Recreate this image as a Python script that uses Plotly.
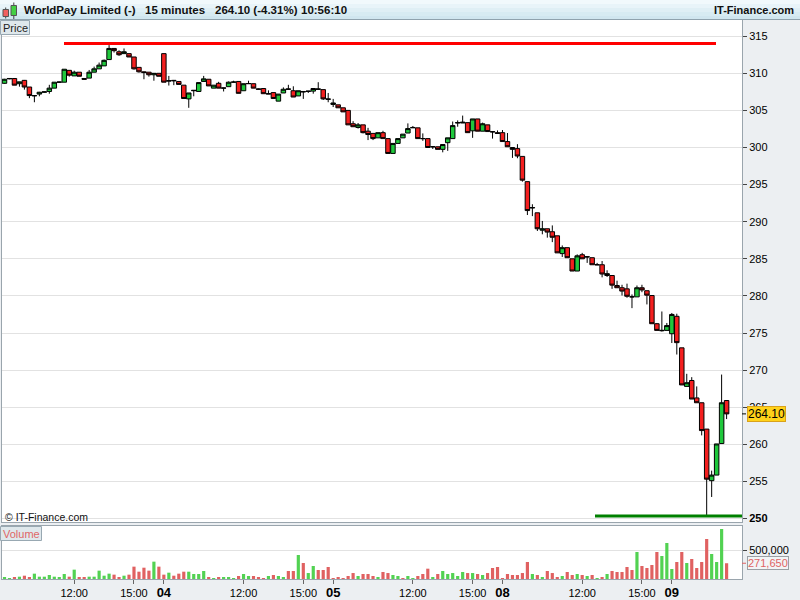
import plotly.graph_objects as go

# ---------------- data ----------------
days = ["03", "04", "05", "08", "09"]
session_bars = 34           # 08:00 .. 16:15, 15-minute bars
first_bar = 2               # series starts at 08:30 on day 03

opens = [308.65,309.25,309.3,308.6,309.05,308.15,306.95,307.2,307.45,307.55,
         308.0,308.8,308.8,310.4,309.65,310.15,309.3,309.35,310.15,310.6,
         311.0,311.85,313.35,312.9,312.65,312.65,312.2,310.8,310.2,310.15,
         309.8,310.0,312.65,308.95,309.05,308.9,308.4,306.55,307.65,307.55,
         308.9,309.2,308.0,308.65,308.0,308.2,308.8,308.9,307.65,308.6,
         308.6,307.9,307.95,307.2,307.4,306.25,307.35,307.9,307.65,306.95,
         307.55,307.55,307.6,307.9,307.8,306.55,305.8,305.75,305.35,305.0,
         303.2,302.7,303.05,302.2,301.9,301.3,302.0,301.2,299.2,300.55,
         301.3,301.95,302.65,302.65,301.2,301.2,300.1,300.1,299.75,300.65,
         301.2,303.3,303.3,303.35,302.25,303.85,302.2,303.05,302.15,302.0,
         302.0,300.8,300.0,299.85,298.8,295.4,291.85,291.2,288.85,289.05,
         288.65,288.1,285.7,286.5,285.0,283.35,285.55,285.25,285.15,284.19,
         284.2,282.75,282.75,281.4,281.1,280.95,279.88,279.87,281.1,280.7,
         280.05,276.25,275.3,275.35,274.9,277.25,273.0,267.8,268.6,266.25,
         265.6,262.05,255.1,255.85,260.1,265.9]
highs = [309.25,309.35,309.35,308.85,309.1,308.15,307.05,307.5,307.5,308.45,
         308.8,308.85,310.55,310.4,310.35,310.15,309.35,310.45,310.9,311.45,
         311.85,313.8,313.4,313.1,313.35,312.65,312.2,310.8,310.25,310.15,
         310.0,310.0,312.7,309.65,309.1,308.9,308.4,307.35,307.7,308.75,
         309.65,309.2,308.4,308.85,308.05,308.9,309.0,308.9,308.6,309.0,
         308.6,307.95,307.95,307.7,307.4,307.2,308.1,308.45,308.25,307.65,
         307.6,307.6,307.95,308.8,307.8,307.35,306.55,305.75,305.35,305.0,
         303.55,303.3,303.05,302.65,301.9,302.0,302.25,301.2,300.55,301.2,
         301.8,303.25,302.9,302.65,301.9,301.2,300.1,300.1,300.4,301.3,
         303.5,303.65,304.3,303.35,303.85,303.85,303.35,303.05,302.15,302.3,
         302.35,301.95,300.0,300.45,298.8,295.4,292.35,291.2,290.1,289.05,
         289.5,288.1,286.8,286.5,285.0,285.6,285.8,285.3,285.15,284.45,
         284.7,283.45,282.75,282.05,281.5,281.65,280.2,281.4,281.5,280.7,
         280.05,276.35,277.9,276.35,277.7,277.6,273.0,269.5,269.05,267.8,
         265.6,262.05,256.45,260.05,269.4,265.9]
lows = [308.6,309.2,308.4,308.2,307.8,306.65,306.1,306.9,307.4,307.25,
        308.0,308.75,308.8,309.55,309.65,309.6,309.15,309.35,310.15,310.6,
        311.0,311.85,312.8,312.35,312.65,312.2,310.5,310.1,309.2,309.55,
        309.0,309.6,308.8,308.35,308.4,308.5,306.6,305.35,306.9,307.55,
        308.9,308.3,308.0,308.0,307.55,308.2,308.8,307.3,307.65,308.6,
        308.0,307.8,307.25,307.2,306.6,306.25,307.35,307.85,306.8,306.95,
        306.55,307.35,307.25,307.85,306.4,306.1,305.45,305.35,304.8,303.05,
        302.8,302.55,301.9,301.0,301.0,301.3,301.2,299.2,299.2,300.55,
        301.3,301.95,302.65,301.2,300.9,300.0,299.8,299.75,299.35,299.55,
        301.2,302.8,303.3,302.0,301.3,302.2,302.2,302.15,301.2,301.9,
        300.8,300.1,298.6,298.55,295.4,290.9,290.75,288.75,288.3,287.85,
        287.25,285.8,285.25,285.15,283.35,283.35,285.0,284.45,284.2,284.19,
        282.5,282.55,280.95,281.1,280.05,279.75,278.35,279.87,280.5,278.85,
        276.25,275.35,275.2,275.35,273.65,272.1,268.0,267.8,266.1,265.6,
        261.2,250.35,252.9,255.85,260.1,263.4]
closes = [309.2,309.3,308.4,308.85,308.15,307.0,307.0,307.45,307.5,308.0,
          308.8,308.82,310.55,309.75,310.15,309.6,309.2,310.15,310.6,311.1,
          311.75,313.35,313.05,312.5,312.9,312.2,310.6,310.2,310.1,309.8,
          310.0,309.6,308.8,309.0,309.0,308.5,306.6,307.35,307.7,308.75,
          309.25,308.3,308.4,308.0,308.02,308.8,308.82,307.3,308.6,308.62,
          308.0,307.85,307.25,307.25,306.6,307.2,307.85,307.85,306.8,307.65,
          307.5,307.6,307.95,307.85,306.55,306.5,306.0,305.35,304.8,303.05,
          302.8,303.05,302.0,301.75,301.2,302.0,301.2,299.2,300.55,301.2,
          301.8,302.55,302.7,301.2,301.2,300.0,300.1,299.75,300.4,301.3,
          302.95,303.35,303.4,302.0,303.85,302.2,303.2,302.15,302.1,301.9,
          300.8,300.1,299.75,298.85,295.6,291.5,291.9,289.05,289.05,288.6,
          287.9,285.8,286.5,285.15,283.35,285.4,285.0,285.27,284.2,284.2,
          282.95,283.0,281.45,281.1,280.65,279.95,279.87,281.1,280.8,280.1,
          276.25,275.35,275.35,276.0,277.5,273.7,268.0,268.3,266.1,265.6,
          261.85,255.3,255.85,260.05,265.6,264.1]
volumes = [23,10,23,40,57,34,92,40,40,69, 40,23,86,40,161,23,23,40,40,144,
           57,92,75,23,57,75,213,126,195,144, 299,213,75,109,57,92,126,126,86,86,
           138,34,17,34,34,34,17,52,86,52, 52,34,17,52,69,52,34,138,138,414,
           276,103,224,155,155,207,17,34,5,52, 103,52,86,86,52,34,121,103,69,52,
           17,52,17,52,86,178,34,86,138,86, 103,52,121,103,103,86,69,103,190,207,
           17,86,69,69,103,293,86,69,34,138, 103,34,52,121,69,86,69,52,69,17,
           34,86,138,121,121,207,155,466,224,190, 241,466,397,621,172,293,466,276,345,190,
           293,690,431,293,862,271.65]
volume_dir = ("GGRGRRGGGG" "GGGRGRRGGG" "GGRRGRRRRR" "GRRGRRRGGG"
              "GRGRGGGRGG" "RRRGRGGRRG" "RGGRRRRRRR" "RGRRRGRRGG"
              "RGGRRRGRGG" "GGGRGRGRRR" "RRRRRRGRGR" "RRGRRGRGRG"
              "RGRRRRRGRR" "RRGGGRRGRR" "RRGGGR")
price_ticks = [250, 255, 260, 265, 270, 275, 280, 285, 290, 295, 300, 305, 310, 315]
support_level = 250.35
resistance_level = 314.0
vol_tick = 500000
title_parts = ["WorldPay Limited (-)", "15 minutes", "264.10 (-4.31%)", "10:56:10"]
last_price_text = "264.10"
last_volume_text = "271,650"

# ---------------- build ----------------
schedule = []
for d in days:
    for k in range(session_bars):
        m = 8 * 60 + 15 * k
        schedule.append((d, "%02d:%02d" % (m // 60, m % 60)))
n = len(closes)
xs = list(range(first_bar, first_bar + n))
vols = [v * 1000 for v in volumes]

tickvals, ticktext = [], []
for i, (d, t) in enumerate(schedule):
    if i < first_bar or i >= first_bar + n:
        continue
    if t == "08:00":
        tickvals.append(i); ticktext.append('<span style="font-size:13px"><b>%s</b></span>' % d)
    elif t in ("12:00", "15:00"):
        tickvals.append(i); ticktext.append(t)

W, H = 800, 600
L, R, T, B = 2, 58, 20, 21
PW, PH = W - L - R, H - T - B
def xp(px): return (px - L) / PW
def yp(py): return (H - B - py) / PH

# price axis scale: 310 at y=73.3, 7.42 px per unit
def pval(py): return 310 - (py - 73.3) / 7.42
bar_px = 4.98
def xi(px): return first_bar + (px - 4.5) / bar_px

GREEN, RED = "#1fc83c", "#f41f1f"
VG, VR = "#52d252", "#e06161"
FONT = "Liberation Sans, Arial, sans-serif"
GRID = "#e2e2e2"
FRAME = "#9aa5ad"

fig = go.Figure()
fig.add_trace(go.Candlestick(
    x=xs, open=opens, high=highs, low=lows, close=closes,
    xaxis="x2", yaxis="y",
    increasing=dict(fillcolor=GREEN, line=dict(color="black", width=1)),
    decreasing=dict(fillcolor=RED, line=dict(color="black", width=1)),
    whiskerwidth=0, showlegend=False, hoverinfo="skip"))
fig.add_trace(go.Bar(
    x=xs, y=vols, xaxis="x", yaxis="y2", width=0.64,
    marker=dict(color=[VG if c == "G" else VR for c in volume_dir], line=dict(width=0)),
    showlegend=False, hoverinfo="skip"))

xr = [xi(L), xi(W - R)]
fig.update_layout(
    width=W, height=H, margin=dict(l=L, r=R, t=T, b=B, autoexpand=False),
    paper_bgcolor="#eceff2", plot_bgcolor="white",
    boxgap=0.1, boxgroupgap=0,
    font=dict(family=FONT, size=11, color="black"),
    xaxis=dict(domain=[0, 1], range=xr, anchor="y2", tickvals=tickvals, ticktext=ticktext,
               ticks="outside", ticklen=4, tickcolor="#666", showgrid=False, zeroline=False,
               showline=True, mirror=True, linecolor=FRAME, tickfont=dict(size=11, family=FONT),
               automargin=False),
    xaxis2=dict(domain=[0, 1], range=xr, anchor="y", matches="x", showticklabels=False,
                ticks="", showgrid=False, zeroline=False, showline=True, mirror=True,
                linecolor=FRAME, rangeslider=dict(visible=False)),
    yaxis=dict(domain=[yp(522), 1], range=[pval(522), pval(20)], side="right",
               tickvals=price_ticks,
               ticktext=[("<b>%d</b>" % v if v == 250 else str(v)) for v in price_ticks],
               ticks="outside", ticklen=4, tickcolor="#444", gridcolor=GRID, zeroline=False,
               showline=True, mirror=True, linecolor=FRAME, tickfont=dict(size=11, family=FONT),
               automargin=False),
    yaxis2=dict(domain=[0, yp(526)], range=[0, 53 * 17241], side="right",
                tickvals=[vol_tick], ticktext=["500,000"], ticks="outside", ticklen=4,
                tickcolor="#444", gridcolor=GRID, zeroline=False, showline=True, mirror=True,
                linecolor=FRAME, tickfont=dict(size=11, family=FONT), automargin=False),
)

shapes = []
# title bar gradient
stripes = ["#f1f9fc", "#e8f4f9", "#dfeff5", "#d7ebf2", "#d0e6ef"]
for i, c in enumerate(stripes):
    shapes.append(dict(type="rect", xref="paper", yref="paper", x0=xp(0), x1=xp(W),
                       y0=yp(4 * (i + 1)), y1=yp(4 * i), fillcolor=c, line=dict(width=0), layer="above"))
shapes.append(dict(type="line", xref="paper", yref="paper", x0=xp(0), x1=xp(W),
                   y0=yp(19.5), y1=yp(19.5), line=dict(color="#8fa2ad", width=1)))
# title icon
shapes += [
    dict(type="line", xref="paper", yref="paper", x0=xp(5.7), x1=xp(5.7), y0=yp(18.5), y1=yp(7.5),
         line=dict(color="#444", width=1)),
    dict(type="rect", xref="paper", yref="paper", x0=xp(3), x1=xp(8.5), y0=yp(16.5), y1=yp(9.5),
         fillcolor="#f06060", line=dict(color="#555", width=1)),
    dict(type="line", xref="paper", yref="paper", x0=xp(13.8), x1=xp(13.8), y0=yp(19), y1=yp(2.5),
         line=dict(color="#444", width=1)),
    dict(type="rect", xref="paper", yref="paper", x0=xp(11), x1=xp(16.5), y0=yp(15.5), y1=yp(5.5),
         fillcolor="#44d044", line=dict(color="#555", width=1)),
]
# label boxes
shapes.append(dict(type="rect", xref="paper", yref="paper", x0=xp(0.5), x1=xp(29.5),
                   y0=yp(34.5), y1=yp(20.5), fillcolor="#dfe8ec", line=dict(color="#98a8b2", width=1)))
shapes.append(dict(type="rect", xref="paper", yref="paper", x0=xp(0.5), x1=xp(41.5),
                   y0=yp(540.5), y1=yp(526.5), fillcolor="#dfe8ec", line=dict(color="#98a8b2", width=1)))
# resistance / support lines
shapes.append(dict(type="line", xref="x2", yref="y", x0=xi(64), x1=xi(716),
                   y0=resistance_level, y1=resistance_level, line=dict(color="#ff0000", width=3)))
shapes.append(dict(type="line", xref="x2", yref="y", x0=xi(595), x1=xr[1],
                   y0=support_level, y1=support_level, line=dict(color="#008000", width=3)))
# last-value ticks
shapes.append(dict(type="line", xref="paper", yref="y", x0=1, x1=xp(746),
                   y0=closes[-1], y1=closes[-1], line=dict(color="black", width=1)))
shapes.append(dict(type="line", xref="paper", yref="y2", x0=1, x1=xp(746),
                   y0=vols[-1], y1=vols[-1], line=dict(color="#e06363", width=1)))
fig.update_layout(shapes=shapes)

ann = []
title_x = [22, 143, 213, 299]
for t, x in zip(title_parts, title_x):
    ann.append(dict(text="<b>%s</b>" % t, xref="paper", yref="paper", x=xp(x), y=yp(10),
                    xanchor="left", yanchor="middle", showarrow=False,
                    font=dict(size=11.5, family=FONT, color="#111")))
ann.append(dict(text="<b>IT-Finance.com</b>", xref="paper", yref="paper", x=xp(796), y=yp(10),
                xanchor="right", yanchor="middle", showarrow=False,
                font=dict(size=11, family=FONT, color="#111")))
ann.append(dict(text="Price", xref="paper", yref="paper", x=xp(15), y=yp(27.5),
                xanchor="center", yanchor="middle", showarrow=False,
                font=dict(size=11, family=FONT, color="#222")))
ann.append(dict(text="Volume", xref="paper", yref="paper", x=xp(21), y=yp(533.5),
                xanchor="center", yanchor="middle", showarrow=False,
                font=dict(size=11, family=FONT, color="#e06666")))
ann.append(dict(text="© IT-Finance.com", xref="paper", yref="paper", x=xp(3), y=yp(517),
                xanchor="left", yanchor="middle", showarrow=False,
                font=dict(size=10.5, family=FONT, color="#111")))
ann.append(dict(text=last_price_text, xref="paper", yref="y", x=xp(746.5), y=closes[-1],
                xanchor="left", yanchor="middle", showarrow=False, bgcolor="#ffd21a",
                bordercolor="#d9a21b", borderwidth=1, borderpad=0,
                font=dict(size=12, family=FONT, color="black")))
ann.append(dict(text=last_volume_text, xref="paper", yref="y2", x=xp(746.5), y=vols[-1],
                xanchor="left", yanchor="middle", showarrow=False, bgcolor="#f2f4f6",
                bordercolor="#9a9fa4", borderwidth=1, borderpad=0,
                font=dict(size=11, family=FONT, color="#e06363")))
fig.update_layout(annotations=ann)

fig.write_html("out.html", config={"displayModeBar": False},
               post_script="document.body.style.margin='0';document.body.style.padding='0';")
